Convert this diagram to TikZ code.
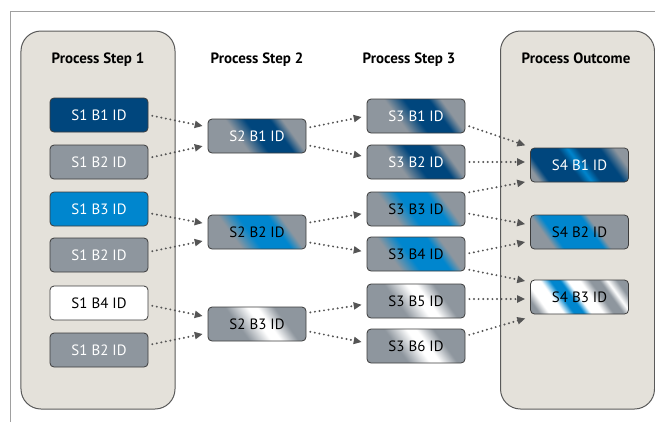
\documentclass[tikz,border=0pt]{standalone}
\usepackage{fontspec}
\setmainfont{PT Sans}
\usepackage{tikz}
\usetikzlibrary{arrows.meta,positioning,calc}

\definecolor{panelfill}{RGB}{228,225,218}
\definecolor{panelline}{RGB}{90,90,90}
\definecolor{framegray}{RGB}{160,160,160}
\definecolor{boxline}{RGB}{60,60,60}
\definecolor{boxgray}{RGB}{142,150,158}
\definecolor{darkblue}{RGB}{0,70,125}
\definecolor{brightblue}{RGB}{0,134,206}
\definecolor{flowgray}{RGB}{85,85,85}

\pgfdeclarehorizontalshading{darkband}{100bp}{color(0bp)=(boxgray); color(42bp)=(boxgray); color(50bp)=(darkblue); color(60bp)=(darkblue); color(65bp)=(boxgray); color(100bp)=(boxgray)}
\pgfdeclarehorizontalshading{blueband}{100bp}{color(0bp)=(boxgray); color(39bp)=(boxgray); color(47bp)=(brightblue); color(59bp)=(brightblue); color(64bp)=(boxgray); color(100bp)=(boxgray)}
\pgfdeclarehorizontalshading{whiteband}{100bp}{color(0bp)=(boxgray); color(42bp)=(boxgray); color(51bp)=(white); color(55bp)=(white); color(62bp)=(boxgray); color(100bp)=(boxgray)}
\pgfdeclarehorizontalshading{outdark}{100bp}{color(0bp)=(boxgray); color(29bp)=(boxgray); color(33bp)=(darkblue); color(46bp)=(darkblue); color(50bp)=(brightblue); color(54bp)=(darkblue); color(63bp)=(darkblue); color(69bp)=(boxgray); color(100bp)=(boxgray)}
\pgfdeclarehorizontalshading{outblue}{100bp}{color(0bp)=(boxgray); color(35bp)=(boxgray); color(39bp)=(brightblue); color(55bp)=(brightblue); color(58bp)=(boxgray); color(100bp)=(boxgray)}
\pgfdeclarehorizontalshading{outwhite}{100bp}{color(0bp)=(boxgray); color(29bp)=(boxgray); color(33bp)=(white); color(39bp)=(white); color(43bp)=(brightblue); color(47bp)=(brightblue); color(50bp)=(white); color(55bp)=(white); color(59bp)=(boxgray); color(63bp)=(boxgray); color(66bp)=(white); color(70bp)=(boxgray); color(100bp)=(boxgray)}

\begin{document}
\begin{tikzpicture}[x=1bp,y=-1bp,
    panel/.style={draw=panelline, line width=1bp, fill=panelfill, rounded corners=20bp,
      minimum width=154bp, minimum height=378bp, inner sep=0pt},
    head/.style={anchor=base, font=\fontsize{15}{18}\selectfont\bfseries},
    idbox/.style={draw=boxline, line width=0.8bp, rounded corners=4bp, minimum width=98bp,
      minimum height=34bp, inner sep=0pt, font=\fontsize{15}{18}\selectfont},
    band/.style={idbox, path picture={
      \begin{scope}[transform canvas={rotate around={36:(path picture bounding box.center)}}]
        \shade[shading=#1] ([shift={(-50bp,-50bp)}]path picture bounding box.center) rectangle ++(100bp,100bp);
      \end{scope}}},
    flow/.style={draw=flowgray, line width=2.2bp, line cap=round, dash pattern=on 0bp off 4.6bp,
      -{Triangle[length=8bp,width=7bp]}, shorten <=4bp, shorten >=5bp}]
    \useasboundingbox (0,0) rectangle (655,422);

    % Frame and panels
    \draw[framegray, line width=1bp] (10,422) -- (10,11) -- (655,11);
    \node[panel] (left) at (98,220) {};
    \node[panel] (right) at (577.5,220) {};

    % Headers
    \node[head] (h1) at (98,63) {Process Step 1};
    \node[head] (h2) at (257,63) {Process Step 2};
    \node[head] (h3) at (409,63) {Process Step 3};
    \node[head] (h4) at (576,63) {Process Outcome};

    % Step 1
    \node[idbox, fill=darkblue, text=white] (s1r1) at (99,115) {S1 B1 ID};
    \node[idbox, fill=boxgray, text=white] (s1r2) at (99,162) {S1 B2 ID};
    \node[idbox, fill=brightblue, text=white] (s1r3) at (99,209) {S1 B3 ID};
    \node[idbox, fill=boxgray, text=white] (s1r4) at (99,255) {S1 B2 ID};
    \node[idbox, fill=white] (s1r5) at (99,303) {S1 B4 ID};
    \node[idbox, fill=boxgray, text=white] (s1r6) at (99,350) {S1 B2 ID};

    % Step 2
    \node[band=darkband, text=white] (s2r1) at (257,136) {S2 B1 ID};
    \node[band=blueband] (s2r2) at (257,232) {S2 B2 ID};
    \node[band=whiteband] (s2r3) at (257,324) {S2 B3 ID};

    % Step 3
    \node[band=darkband, text=white] (s3r1) at (416,116) {S3 B1 ID};
    \node[band=darkband, text=white] (s3r2) at (416,162) {S3 B2 ID};
    \node[band=blueband] (s3r3) at (416,209) {S3 B3 ID};
    \node[band=blueband] (s3r4) at (416,254) {S3 B4 ID};
    \node[band=whiteband] (s3r5) at (416,301) {S3 B5 ID};
    \node[band=whiteband] (s3r6) at (416,346) {S3 B6 ID};

    % Outcome
    \node[band=outdark, text=white] (s4r1) at (579.5,165) {S4 B1 ID};
    \node[band=outblue] (s4r2) at (579.5,232) {S4 B2 ID};
    \node[band=outwhite] (s4r3) at (579.5,297) {S4 B3 ID};

    % Step 1 to step 2
    \draw[flow] (s1r1.east) -- ([yshift=9bp]s2r1.west);
    \draw[flow] ([yshift=4bp]s1r2.east) -- ([yshift=-9bp]s2r1.west);
    \draw[flow] ([yshift=-4bp]s1r3.east) -- ([yshift=8bp]s2r2.west);
    \draw[flow] ([yshift=3bp]s1r4.east) -- ([yshift=-8bp]s2r2.west);
    \draw[flow] ([yshift=-2bp]s1r5.east) -- ([yshift=7bp]s2r3.west);
    \draw[flow] ([yshift=5bp]s1r6.east) -- ([yshift=-9bp]s2r3.west);

    % Step 2 to step 3
    \draw[flow] ([yshift=8bp]s2r1.east) -- (s3r1.west);
    \draw[flow] ([yshift=-9bp]s2r1.east) -- ([yshift=5bp]s3r2.west);
    \draw[flow] ([yshift=9bp]s2r2.east) -- ([yshift=-4bp]s3r3.west);
    \draw[flow] ([yshift=-10bp]s2r2.east) -- ([yshift=2bp]s3r4.west);
    \draw[flow] ([yshift=11bp]s2r3.east) -- ([yshift=-3bp]s3r5.west);
    \draw[flow] ([yshift=-7bp]s2r3.east) -- ([yshift=3bp]s3r6.west);

    % Step 3 to outcome
    \draw[flow] ([yshift=-9bp]s3r1.east) -- ([yshift=18bp]s4r1.west);
    \draw[flow] (s3r2.east) -- ([yshift=3bp]s4r1.west);
    \draw[flow] ([yshift=16bp]s3r3.east) -- ([yshift=-16bp]s4r1.west);
    \draw[flow] ([yshift=-4bp]s3r3.east) -- ([yshift=7bp]s4r2.west);
    \draw[flow] (s3r4.east) -- ([yshift=-9bp]s4r2.west);
    \draw[flow] ([yshift=-15bp]s3r4.east) -- ([yshift=15bp]s4r3.west);
    \draw[flow] ([yshift=2bp]s3r5.east) -- ([yshift=-2bp]s4r3.west);
    \draw[flow] ([yshift=10bp]s3r6.east) -- ([yshift=-20bp]s4r3.west);
\end{tikzpicture}
\end{document}
